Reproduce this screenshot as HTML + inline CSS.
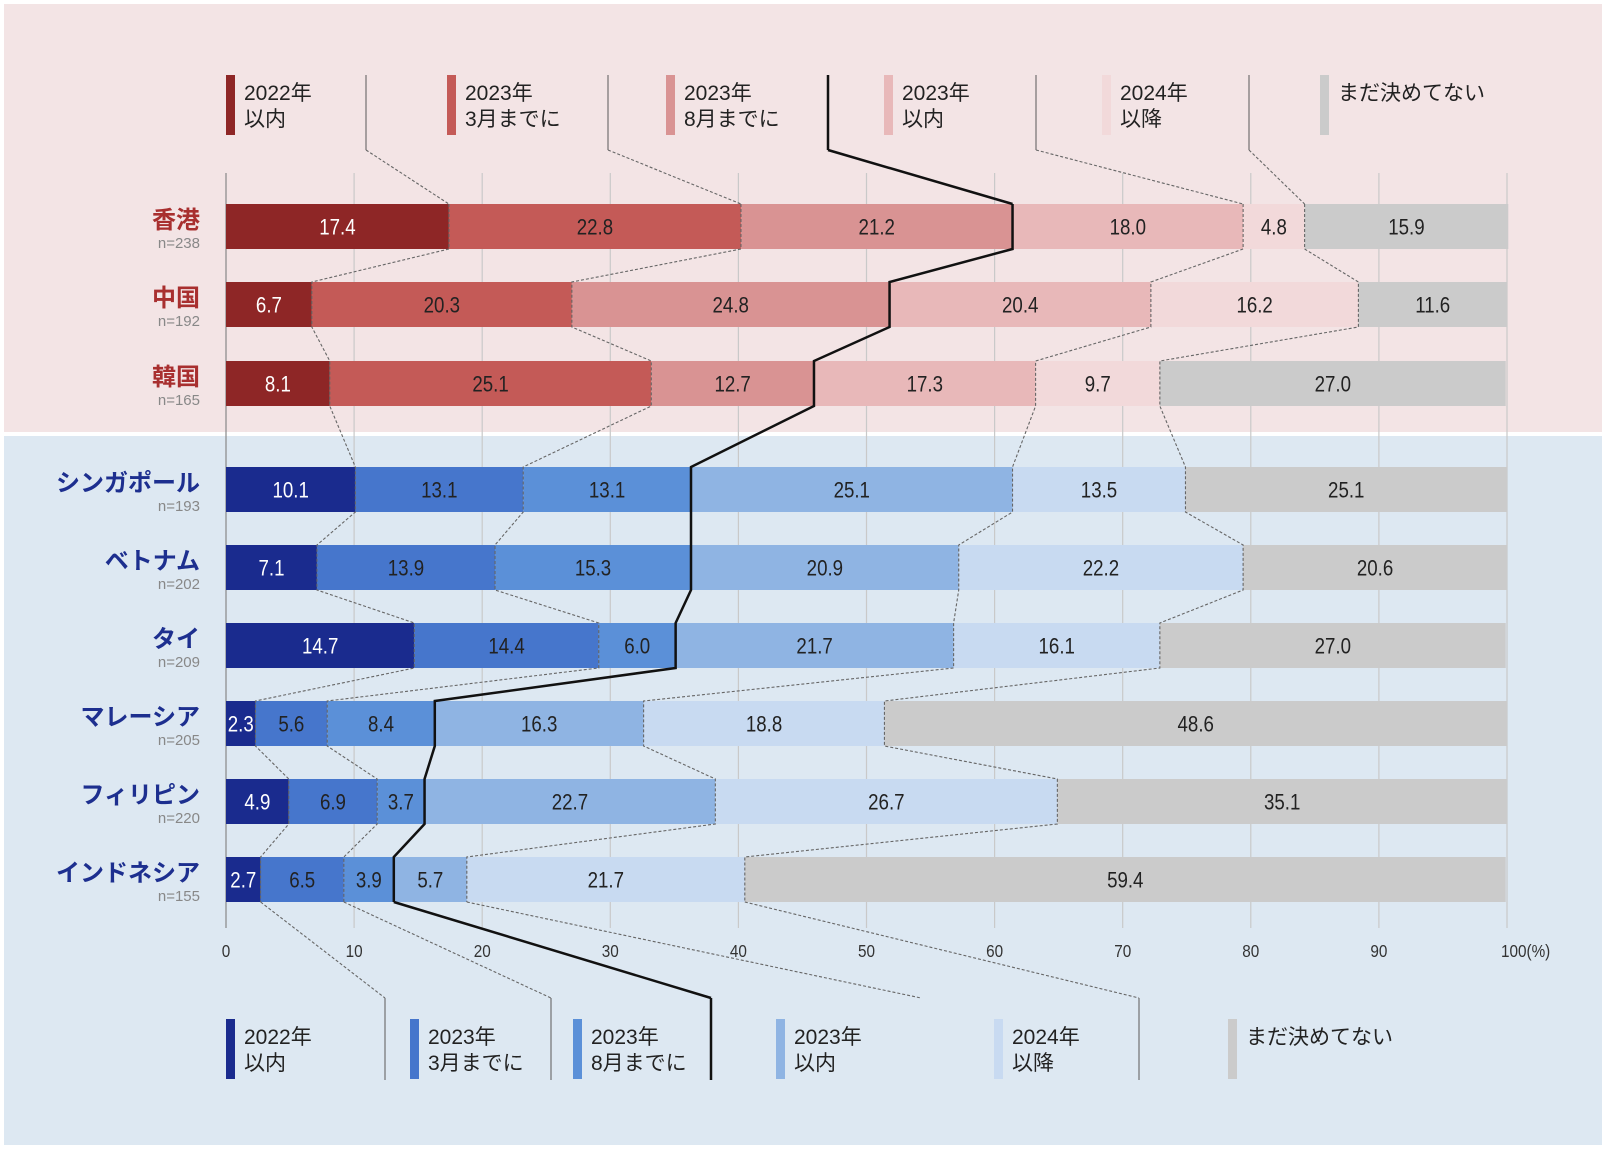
<!DOCTYPE html>
<html><head><meta charset="utf-8"><style>
html,body{margin:0;padding:0;background:#fff;}
svg{display:block;}
text{font-family:"Liberation Sans","Noto Sans CJK JP",sans-serif;}
.jp{font-family:"Liberation Sans","Noto Sans CJK JP",sans-serif;}
</style></head><body>
<svg id="chart" width="1606" height="1150" viewBox="0 0 1606 1150" xmlns="http://www.w3.org/2000/svg">
<rect x="4" y="4" width="1598" height="428" fill="#f3e4e5"/>
<rect x="4" y="436" width="1598" height="709" fill="#dde8f2"/>
<g id="grid"></g><g id="bars"></g><g id="links"></g><g id="legend"></g>
</svg>
<script>
const categories = ["香港","中国","韓国","シンガポール","ベトナム","タイ","マレーシア","フィリピン","インドネシア"];
const sampleSizes = ["n=238","n=192","n=165","n=193","n=202","n=209","n=205","n=220","n=155"];
const s2022 = [17.4,6.7,8.1,10.1,7.1,14.7,2.3,4.9,2.7];
const s2023Mar = [22.8,20.3,25.1,13.1,13.9,14.4,5.6,6.9,6.5];
const s2023Aug = [21.2,24.8,12.7,13.1,15.3,6.0,8.4,3.7,3.9];
const s2023 = [18.0,20.4,17.3,25.1,20.9,21.7,16.3,22.7,5.7];
const s2024 = [4.8,16.2,9.7,13.5,22.2,16.1,18.8,26.7,21.7];
const sUndecided = [15.9,11.6,27.0,25.1,20.6,27.0,48.6,35.1,59.4];
const seriesNames = [["2022年","以内"],["2023年","3月までに"],["2023年","8月までに"],["2023年","以内"],["2024年","以降"],["まだ決めてない"]];
const xTicks = [0,10,20,30,40,50,60,70,80,90,100];

const NS="http://www.w3.org/2000/svg";
const X0=226, X1=1507;
const x = v => X0 + (X1-X0)*v/100;
const rowY = [204,282,361,467,545,623,701,779,857];
const BH=45;
const redCols=["#8e2626","#c45a57","#d99393","#e8b8b9","#f2d9da","#cbcbcb"];
const blueCols=["#1a2b8e","#4676cc","#5b90d8","#8fb4e3","#c8daf1","#cbcbcb"];
const series=[s2022,s2023Mar,s2023Aug,s2023,s2024,sUndecided];
function el(tag,attrs,parent,txt){const e=document.createElementNS(NS,tag);for(const k in attrs)e.setAttribute(k,attrs[k]);if(txt!==undefined)e.textContent=txt;parent.appendChild(e);return e;}
const grid=document.getElementById('grid'), bars=document.getElementById('bars'), links=document.getElementById('links'), legend=document.getElementById('legend');
function narrowText(cx,cy,size,fill,anchor,str,parent){
  const g=el('g',{transform:`translate(${cx},${cy}) scale(0.85,1)`},parent);
  return el('text',{x:0,y:0,'font-size':size,fill:fill,'text-anchor':anchor},g,str);
}

xTicks.forEach(t=>{
  const l=el('line',{x1:x(t),x2:x(t),y1:173,y2:928,stroke:t===0?'#888':'#c9c9c9','stroke-width':1.2},grid);
  
  
  const tx=narrowText(t===100?x(t)-6:x(t),957,18,'#333',t===100?'start':'middle',t===100?'100(%)':String(t),grid);
  
  
});

const cums=[];
categories.forEach((c,i)=>{
  const cols=i<3?redCols:blueCols;
  let acc=0; const cum=[];
  series.forEach((s,k)=>{
    const v=s[i];
    const r=el('rect',{x:x(acc),y:rowY[i],width:x(acc+v)-x(acc),height:BH,fill:cols[k]},bars);
    
    
    const t=narrowText((x(acc)+x(acc+v))/2,rowY[i]+BH/2+8,22,k===0?'#fff':'#222','middle',v.toFixed(1),bars);
    
    
    acc+=v; cum.push(acc);
  });
  cums.push(cum);
  const nc=i<3?'#a82f2f':'#1d2f8f';
  const lt=el('text',{x:200,y:rowY[i]+24,'font-size':24,'font-weight':'bold',fill:nc,'text-anchor':'end',class:'jp'},bars,c);
  
  
  const nt=el('text',{x:200,y:rowY[i]+44,'font-size':15,fill:'#888','text-anchor':'end'},bars,sampleSizes[i]);
  
  
});

function seg(pts,black,name,solidGray){
  const p=el('polyline',{points:pts.map(q=>q.join(',')).join(' '),fill:'none',stroke:black?'#111':'#666','stroke-width':black?2.5:1.1,'stroke-dasharray':(black||solidGray)?'none':'3,2'},links);
  
  
}
for(let k=0;k<5;k++){
  const pts=[];
  for(let i=0;i<categories.length;i++){pts.push([x(cums[i][k]),rowY[i]]);pts.push([x(cums[i][k]),rowY[i]+BH]);}
  seg(pts,k===2,'boundary-connector-'+k);
}
const topSep=[366,608,828,1036,1249];
topSep.forEach((sx,k)=>{
  seg([[sx,75],[sx,150]],k===2,'top-legend-separator-'+k,true);
  seg([[sx,150],[x(cums[0][k]),204]],k===2,'top-legend-connector-'+k);
});
const botSep=[385,551,711,921,1139];
const botEndV=[true,true,true,false,true];
const last=categories.length-1;
[0,1,2,3,4].forEach(k=>{
  seg([[x(cums[last][k]),rowY[last]+BH],[botSep[k],998]],k===2,'bottom-legend-connector-'+k);
  if(botEndV[k]) seg([[botSep[k],998],[botSep[k],1080]],k===2,'bottom-legend-separator-'+k,true);
});

function drawLegend(xs,y0,cols,prefix){
  xs.forEach((lx,k)=>{
    const r=el('rect',{x:lx,y:y0,width:9,height:60,fill:cols[k]},legend);
    
    
    seriesNames[k].forEach((ln,j)=>{
      const t=el('text',{x:lx+18,y:y0+25+j*26,'font-size':21,fill:'#222',class:'jp'},legend,ln);
      
      
    });
  });
}
drawLegend([226,447,666,884,1102,1320],75,redCols,'top-legend');
drawLegend([226,410,573,776,994,1228],1019,blueCols,'bottom-legend');
</script>
</body></html>
